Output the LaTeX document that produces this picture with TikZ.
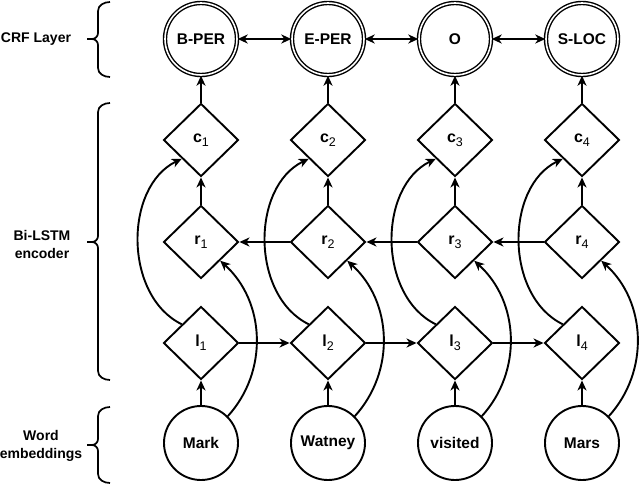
\documentclass[tikz,border=0pt]{standalone}
\usepackage{fontspec}
\setmainfont{Liberation Sans}
\usetikzlibrary{shapes.geometric,arrows.meta}
\newcommand{\sbs}[1]{\raisebox{-0.45ex}{\fontsize{12.5}{12.5}\selectfont\mdseries #1}}
\tikzset{
  ln/.style={line width=1.9pt},
  arr/.style={ln,-{Stealth[length=10pt,width=9pt,inset=3pt]}},
  darr/.style={ln,{Stealth[length=10pt,width=9pt,inset=3pt]}-{Stealth[length=10pt,width=9pt,inset=3pt]}},
  crf/.style={circle,draw,line width=1.4pt,double,double distance=1.6pt,minimum size=72pt,inner sep=0pt,font=\fontsize{15.5}{16}\selectfont\bfseries},
  word/.style={circle,draw,ln,minimum size=74pt,inner sep=0pt,font=\fontsize{15.5}{16}\selectfont\bfseries},
  dia/.style={diamond,draw,ln,minimum width=75pt,minimum height=73pt,inner sep=0pt,font=\fontsize{16}{16}\selectfont\bfseries},
  side/.style={align=center,font=\fontsize{14}{18}\selectfont\bfseries},
  brc/.style={line width=1.7pt},
}
\newcommand{\bracepath}[3]{% top, bottom, mid
  \draw[brc] (110,#1) to[out=180,in=90] (98,#1+9) -- (98,#3-6) to[out=-90,in=0] (92,#3) -- (87,#3);
  \draw[brc] (92,#3) to[out=0,in=90] (98,#3+6) -- (98,#2-9) to[out=-90,in=180] (110,#2);
}
\begin{document}
\begin{tikzpicture}[x=1pt,y=-1pt]
\useasboundingbox (0,0) rectangle (640,485);
% CRF layer
\node[crf] (t1) at (201,39) {B-PER};
\node[crf] (t2) at (328,39) {E-PER};
\node[crf] (t3) at (455,39) {O};
\node[crf] (t4) at (582,39) {S-LOC};
% c
\node[dia] (c1) at (201,140) {c\sbs{1}};
\node[dia] (c2) at (328,140) {c\sbs{2}};
\node[dia] (c3) at (455,140) {c\sbs{3}};
\node[dia] (c4) at (582,140) {c\sbs{4}};
% r
\node[dia] (r1) at (201,242) {r\sbs{1}};
\node[dia] (r2) at (328,242) {r\sbs{2}};
\node[dia] (r3) at (455,242) {r\sbs{3}};
\node[dia] (r4) at (582,242) {r\sbs{4}};
% l
\node[dia] (l1) at (201,343) {l\sbs{1}};
\node[dia] (l2) at (328,343) {l\sbs{2}};
\node[dia] (l3) at (455,343) {l\sbs{3}};
\node[dia] (l4) at (582,343) {l\sbs{4}};
% words
\node[word] (w1) at (201,443) {Mark};
\node[word] (w2) at (328,443) {Watney};
\node[word] (w3) at (455,443) {visited};
\node[word] (w4) at (582,443) {Mars};
% side labels
\node[side] (s1) at (36,39) {CRF Layer};
\node[side] (s2) at (42,244) {Bi-LSTM\\encoder};
\node[side] (s3) at (41,446) {Word\\embeddings};
\bracepath{2}{77}{39}
\bracepath{103}{380}{242}
\bracepath{407}{483}{445}
% connectors
\draw[darr] (t1) -- (t2);
\draw[darr] (t2) -- (t3);
\draw[darr] (t3) -- (t4);
\foreach \i in {1,2,3,4}{
  \draw[arr] (c\i.north) -- (t\i.south);
  \draw[arr] (r\i.north) -- (c\i.south);
  \draw[arr] (w\i.north) -- (l\i.south);
  \draw[arr] (l\i.north west) to[bend left=64] (c\i.south west);
  \draw[arr] (w\i.north east) to[bend right=45] (r\i.south east);
}
\draw[arr] (l1.east) -- (l2.west);
\draw[arr] (l2.east) -- (l3.west);
\draw[arr] (l3.east) -- (l4.west);
\draw[arr] (r2.west) -- (r1.east);
\draw[arr] (r3.west) -- (r2.east);
\draw[arr] (r4.west) -- (r3.east);
\end{tikzpicture}
\end{document}
